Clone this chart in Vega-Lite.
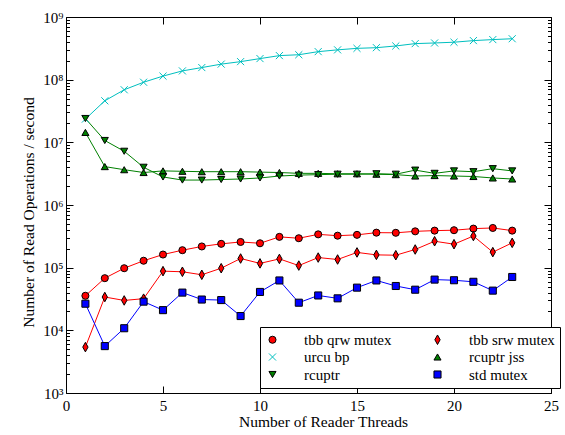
{
  "$schema": "https://vega.github.io/schema/vega-lite/v6.json",
  "width": 485,
  "height": 376,
  "autosize": {"type": "none"},
  "padding": {"left": 66, "top": 17, "right": 14, "bottom": 42},
  "background": "white",
  "config": {
    "view": {"stroke": "black", "strokeWidth": 1},
    "font": "Liberation Serif",
    "axis": {"grid": false, "domain": false, "labelFont": "Liberation Serif", "titleFont": "Liberation Serif", "labelFontSize": 15, "titleFontSize": 15.5, "titleFontWeight": "normal", "labelColor": "black", "titleColor": "black", "tickColor": "black"},
    "legend": {"labelFont": "Liberation Serif", "labelFontSize": 15, "labelColor": "black", "symbolStrokeWidth": 1, "symbolSize": 50, "labelOffset": 24, "rowPadding": 1.5, "columnPadding": 38, "padding": 5, "fillColor": "white", "strokeColor": "black", "labelLimit": 300}
  },
  "datasets": {
    "d": [
      {"s": "tbb qrw mutex", "x": 1, "y": 35600}, {"s": "tbb qrw mutex", "x": 2, "y": 68000}, {"s": "tbb qrw mutex", "x": 3, "y": 98000}, {"s": "tbb qrw mutex", "x": 4, "y": 129000}, {"s": "tbb qrw mutex", "x": 5, "y": 162000}, {"s": "tbb qrw mutex", "x": 6, "y": 190000}, {"s": "tbb qrw mutex", "x": 7, "y": 218000}, {"s": "tbb qrw mutex", "x": 8, "y": 240000}, {"s": "tbb qrw mutex", "x": 9, "y": 257000}, {"s": "tbb qrw mutex", "x": 10, "y": 245000}, {"s": "tbb qrw mutex", "x": 11, "y": 310000}, {"s": "tbb qrw mutex", "x": 12, "y": 295000}, {"s": "tbb qrw mutex", "x": 13, "y": 340000}, {"s": "tbb qrw mutex", "x": 14, "y": 324000}, {"s": "tbb qrw mutex", "x": 15, "y": 334000}, {"s": "tbb qrw mutex", "x": 16, "y": 362000}, {"s": "tbb qrw mutex", "x": 17, "y": 360000}, {"s": "tbb qrw mutex", "x": 18, "y": 380000}, {"s": "tbb qrw mutex", "x": 19, "y": 390000}, {"s": "tbb qrw mutex", "x": 20, "y": 396000}, {"s": "tbb qrw mutex", "x": 21, "y": 420000}, {"s": "tbb qrw mutex", "x": 22, "y": 430000}, {"s": "tbb qrw mutex", "x": 23, "y": 390000},
      {"s": "tbb srw mutex", "x": 1, "y": 5400}, {"s": "tbb srw mutex", "x": 2, "y": 34000}, {"s": "tbb srw mutex", "x": 3, "y": 30000}, {"s": "tbb srw mutex", "x": 4, "y": 32000}, {"s": "tbb srw mutex", "x": 5, "y": 88000}, {"s": "tbb srw mutex", "x": 6, "y": 86000}, {"s": "tbb srw mutex", "x": 7, "y": 77000}, {"s": "tbb srw mutex", "x": 8, "y": 98000}, {"s": "tbb srw mutex", "x": 9, "y": 140000}, {"s": "tbb srw mutex", "x": 10, "y": 117000}, {"s": "tbb srw mutex", "x": 11, "y": 138000}, {"s": "tbb srw mutex", "x": 12, "y": 108000}, {"s": "tbb srw mutex", "x": 13, "y": 145000}, {"s": "tbb srw mutex", "x": 14, "y": 135000}, {"s": "tbb srw mutex", "x": 15, "y": 175000}, {"s": "tbb srw mutex", "x": 16, "y": 160000}, {"s": "tbb srw mutex", "x": 17, "y": 158000}, {"s": "tbb srw mutex", "x": 18, "y": 195000}, {"s": "tbb srw mutex", "x": 19, "y": 264000}, {"s": "tbb srw mutex", "x": 20, "y": 237000}, {"s": "tbb srw mutex", "x": 21, "y": 320000}, {"s": "tbb srw mutex", "x": 22, "y": 177000}, {"s": "tbb srw mutex", "x": 23, "y": 249000},
      {"s": "urcu bp", "x": 1, "y": 23500000}, {"s": "urcu bp", "x": 2, "y": 46000000}, {"s": "urcu bp", "x": 3, "y": 69000000}, {"s": "urcu bp", "x": 4, "y": 91000000}, {"s": "urcu bp", "x": 5, "y": 114000000}, {"s": "urcu bp", "x": 6, "y": 138000000}, {"s": "urcu bp", "x": 7, "y": 156000000}, {"s": "urcu bp", "x": 8, "y": 177000000}, {"s": "urcu bp", "x": 9, "y": 194000000}, {"s": "urcu bp", "x": 10, "y": 217000000}, {"s": "urcu bp", "x": 11, "y": 242000000}, {"s": "urcu bp", "x": 12, "y": 250000000}, {"s": "urcu bp", "x": 13, "y": 280000000}, {"s": "urcu bp", "x": 14, "y": 299000000}, {"s": "urcu bp", "x": 15, "y": 316000000}, {"s": "urcu bp", "x": 16, "y": 324000000}, {"s": "urcu bp", "x": 17, "y": 345000000}, {"s": "urcu bp", "x": 18, "y": 376000000}, {"s": "urcu bp", "x": 19, "y": 385000000}, {"s": "urcu bp", "x": 20, "y": 396000000}, {"s": "urcu bp", "x": 21, "y": 420000000}, {"s": "urcu bp", "x": 22, "y": 436000000}, {"s": "urcu bp", "x": 23, "y": 450000000},
      {"s": "rcuptr jss", "x": 1, "y": 14400000}, {"s": "rcuptr jss", "x": 2, "y": 4100000}, {"s": "rcuptr jss", "x": 3, "y": 3660000}, {"s": "rcuptr jss", "x": 4, "y": 3300000}, {"s": "rcuptr jss", "x": 5, "y": 3500000}, {"s": "rcuptr jss", "x": 6, "y": 3450000}, {"s": "rcuptr jss", "x": 7, "y": 3400000}, {"s": "rcuptr jss", "x": 8, "y": 3400000}, {"s": "rcuptr jss", "x": 9, "y": 3400000}, {"s": "rcuptr jss", "x": 10, "y": 3350000}, {"s": "rcuptr jss", "x": 11, "y": 3300000}, {"s": "rcuptr jss", "x": 12, "y": 3200000}, {"s": "rcuptr jss", "x": 13, "y": 3200000}, {"s": "rcuptr jss", "x": 14, "y": 3150000}, {"s": "rcuptr jss", "x": 15, "y": 3150000}, {"s": "rcuptr jss", "x": 16, "y": 3100000}, {"s": "rcuptr jss", "x": 17, "y": 3050000}, {"s": "rcuptr jss", "x": 18, "y": 2900000}, {"s": "rcuptr jss", "x": 19, "y": 2950000}, {"s": "rcuptr jss", "x": 20, "y": 2900000}, {"s": "rcuptr jss", "x": 21, "y": 2850000}, {"s": "rcuptr jss", "x": 22, "y": 2700000}, {"s": "rcuptr jss", "x": 23, "y": 2600000},
      {"s": "rcuptr", "x": 1, "y": 24000000}, {"s": "rcuptr", "x": 2, "y": 10700000}, {"s": "rcuptr", "x": 3, "y": 7200000}, {"s": "rcuptr", "x": 4, "y": 4000000}, {"s": "rcuptr", "x": 5, "y": 2800000}, {"s": "rcuptr", "x": 6, "y": 2500000}, {"s": "rcuptr", "x": 7, "y": 2500000}, {"s": "rcuptr", "x": 8, "y": 2550000}, {"s": "rcuptr", "x": 9, "y": 2600000}, {"s": "rcuptr", "x": 10, "y": 2700000}, {"s": "rcuptr", "x": 11, "y": 2900000}, {"s": "rcuptr", "x": 12, "y": 3000000}, {"s": "rcuptr", "x": 13, "y": 3050000}, {"s": "rcuptr", "x": 14, "y": 3100000}, {"s": "rcuptr", "x": 15, "y": 3100000}, {"s": "rcuptr", "x": 16, "y": 3150000}, {"s": "rcuptr", "x": 17, "y": 3100000}, {"s": "rcuptr", "x": 18, "y": 3600000}, {"s": "rcuptr", "x": 19, "y": 3200000}, {"s": "rcuptr", "x": 20, "y": 3500000}, {"s": "rcuptr", "x": 21, "y": 3400000}, {"s": "rcuptr", "x": 22, "y": 3800000}, {"s": "rcuptr", "x": 23, "y": 3500000},
      {"s": "std mutex", "x": 1, "y": 26600}, {"s": "std mutex", "x": 2, "y": 5600}, {"s": "std mutex", "x": 3, "y": 10800}, {"s": "std mutex", "x": 4, "y": 28700}, {"s": "std mutex", "x": 5, "y": 21000}, {"s": "std mutex", "x": 6, "y": 40000}, {"s": "std mutex", "x": 7, "y": 31000}, {"s": "std mutex", "x": 8, "y": 30400}, {"s": "std mutex", "x": 9, "y": 16900}, {"s": "std mutex", "x": 10, "y": 41000}, {"s": "std mutex", "x": 11, "y": 62500}, {"s": "std mutex", "x": 12, "y": 27600}, {"s": "std mutex", "x": 13, "y": 36000}, {"s": "std mutex", "x": 14, "y": 32400}, {"s": "std mutex", "x": 15, "y": 48000}, {"s": "std mutex", "x": 16, "y": 62500}, {"s": "std mutex", "x": 17, "y": 51000}, {"s": "std mutex", "x": 18, "y": 44500}, {"s": "std mutex", "x": 19, "y": 64500}, {"s": "std mutex", "x": 20, "y": 63000}, {"s": "std mutex", "x": 21, "y": 59500}, {"s": "std mutex", "x": 22, "y": 43000}, {"s": "std mutex", "x": 23, "y": 71000}
    ]
  },
  "data": {"name": "d"},
  "resolve": {"axis": {"x": "independent", "y": "independent"}},
  "layer": [
    {
      "mark": {"type": "line", "strokeWidth": 1, "clip": true},
      "encoding": {
        "x": {"field": "x", "type": "quantitative", "scale": {"domain": [0, 25], "nice": false},
          "axis": {"orient": "bottom", "title": "Number of Reader Threads", "titleX": 257, "values": [0, 5, 10, 15, 20, 25], "tickSize": -7, "labelPadding": 12, "titlePadding": 1, "labelFlush": false}},
        "y": {"field": "y", "type": "quantitative", "scale": {"type": "log", "domain": [1000, 1000000000], "nice": false},
          "axis": {"orient": "left", "title": "Number of Read Operations / second", "titleY": 195, "titlePadding": 6,
            "values": [1000,2000,3000,4000,5000,6000,7000,8000,9000,10000,20000,30000,40000,50000,60000,70000,80000,90000,100000,200000,300000,400000,500000,600000,700000,800000,900000,1000000,2000000,3000000,4000000,5000000,6000000,7000000,8000000,9000000,10000000,20000000,30000000,40000000,50000000,60000000,70000000,80000000,90000000,100000000,200000000,300000000,400000000,500000000,600000000,700000000,800000000,900000000,1000000000],
            "labelExpr": "abs(log(datum.value)/LN10 - round(log(datum.value)/LN10)) < 0.001 ? '10' + ['⁰','¹','²','³','⁴','⁵','⁶','⁷','⁸','⁹'][round(log(datum.value)/LN10)] : ''",
            "labelOverlap": false, "labelFlush": false, "labelPadding": 10,
            "tickSize": {"condition": {"test": "abs(log(datum.value)/LN10 - round(log(datum.value)/LN10)) < 0.001", "value": -7}, "value": -3.5}}},
        "color": {"field": "s", "type": "nominal", "legend": null,
          "scale": {"domain": ["tbb qrw mutex", "tbb srw mutex", "urcu bp", "rcuptr jss", "rcuptr", "std mutex"], "range": ["#ff0000", "#ff0000", "#00bfbf", "#008000", "#008000", "#0000ff"]}}
      }
    },
    {
      "mark": {"type": "point", "filled": false, "strokeWidth": 1, "opacity": 1, "size": 50, "clip": true},
      "encoding": {
        "x": {"field": "x", "type": "quantitative",
          "axis": {"orient": "top", "title": null, "labels": false, "values": [0, 5, 10, 15, 20, 25], "tickSize": -7}},
        "y": {"field": "y", "type": "quantitative",
          "axis": {"orient": "right", "title": null, "labels": false,
            "values": [1000,2000,3000,4000,5000,6000,7000,8000,9000,10000,20000,30000,40000,50000,60000,70000,80000,90000,100000,200000,300000,400000,500000,600000,700000,800000,900000,1000000,2000000,3000000,4000000,5000000,6000000,7000000,8000000,9000000,10000000,20000000,30000000,40000000,50000000,60000000,70000000,80000000,90000000,100000000,200000000,300000000,400000000,500000000,600000000,700000000,800000000,900000000,1000000000],
            "tickSize": {"condition": {"test": "abs(log(datum.value)/LN10 - round(log(datum.value)/LN10)) < 0.001", "value": -7}, "value": -3.5}}},
        "fill": {"field": "s", "type": "nominal",
          "scale": {"domain": ["tbb qrw mutex", "urcu bp", "rcuptr", "tbb srw mutex", "rcuptr jss", "std mutex"], "range": ["#ff0000", "#ffffff00", "#008000", "#ff0000", "#008000", "#0000ff"]},
          "legend": {"orient": "none", "legendX": 194, "legendY": 310, "title": null, "direction": "vertical", "columns": 2, "labelFontSize": 15, "labelFont": "Liberation Serif", "labelOffset": 24, "rowPadding": 1.5, "columnPadding": 38, "padding": 5}},
        "stroke": {"field": "s", "type": "nominal",
          "scale": {"domain": ["tbb qrw mutex", "urcu bp", "rcuptr", "tbb srw mutex", "rcuptr jss", "std mutex"], "range": ["#000000", "#00bfbf", "#000000", "#000000", "#000000", "#000000"]},
          "legend": {"orient": "none", "legendX": 194, "legendY": 310, "title": null, "direction": "vertical", "columns": 2, "labelFontSize": 15, "labelFont": "Liberation Serif", "labelOffset": 24, "rowPadding": 1.5, "columnPadding": 38, "padding": 5}},
        "shape": {"field": "s", "type": "nominal",
          "scale": {"domain": ["tbb qrw mutex", "urcu bp", "rcuptr", "tbb srw mutex", "rcuptr jss", "std mutex"], "range": ["circle", "M-1,-1L1,1M-1,1L1,-1", "triangle-down", "M0,-1.35L0.75,0L0,1.35L-0.75,0Z", "triangle-up", "square"]},
          "legend": {"orient": "none", "legendX": 194, "legendY": 310, "title": null, "direction": "vertical", "columns": 2, "labelFontSize": 15, "labelFont": "Liberation Serif", "labelOffset": 24, "rowPadding": 1.5, "columnPadding": 38, "padding": 5}}
      }
    }
  ]
}
